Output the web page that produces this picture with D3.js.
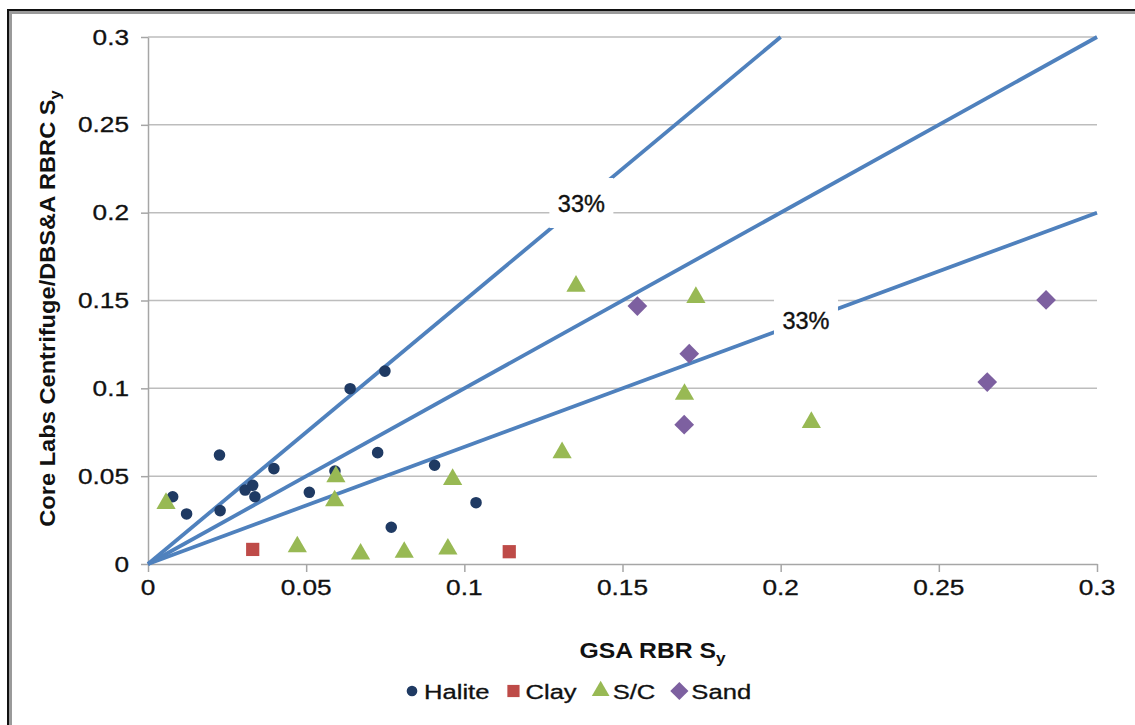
<!DOCTYPE html>
<html>
<head>
<meta charset="utf-8">
<script src="https://cdn.jsdelivr.net/npm/d3@7"></script>
<style>
  body { margin: 0; background: #fff; }
  svg { display: block; font-family: "Liberation Sans", Arial, sans-serif; }
</style>
</head>
<body>
<svg id="chart"></svg>
<script>
'use strict';

// values
const halite = [
  [0.0078, 0.0383], [0.0122, 0.0285], [0.0226, 0.0620], [0.0228, 0.0304],
  [0.0307, 0.0421], [0.0331, 0.0448], [0.0338, 0.0383], [0.0398, 0.0543],
  [0.0510, 0.0408], [0.0591, 0.0529], [0.0639, 0.0998], [0.0749, 0.1098],
  [0.0726, 0.0634], [0.0769, 0.0209], [0.0906, 0.0562], [0.1037, 0.0349],
];
const clay = [[0.0331, 0.0083], [0.1142, 0.0070]];
const sc = [
  [0.0057, 0.0345], [0.0472, 0.0098], [0.0594, 0.0497], [0.0590, 0.0360],
  [0.0672, 0.0057], [0.0810, 0.0067], [0.0948, 0.0085], [0.0963, 0.0482],
  [0.1353, 0.1582], [0.1732, 0.1518], [0.1696, 0.0966], [0.1309, 0.0634],
  [0.2097, 0.0806],
];
const sand = [[0.1547, 0.1468], [0.1711, 0.1197], [0.1695, 0.0793], [0.2839, 0.1503], [0.2653, 0.1036]];

const lineSlopes = [1.5, 1, 2 / 3];
const lineLabels = [
  { line: 0, at: 0.137, text: '33%' },
  { line: 2, at: 0.208, text: '33%' },
];

const xTicks = [0, 0.05, 0.1, 0.15, 0.2, 0.25, 0.3];
const yTicks = [0, 0.05, 0.1, 0.15, 0.2, 0.25, 0.3];
const xTickLabels = ['0', '0.05', '0.1', '0.15', '0.2', '0.25', '0.3'];
const yTickLabels = ['0', '0.05', '0.1', '0.15', '0.2', '0.25', '0.3'];

const series = [
  { name: 'Halite', data: halite, color: '#1F3A63', symbol: d3.symbolCircle, size: 105, rot: 0 },
  { name: 'Clay', data: clay, color: '#BE4B48', symbol: d3.symbolSquare, size: 175, rot: 0 },
  { name: 'S/C', data: sc, color: '#98B954', symbol: d3.symbolTriangle, size: 160, rot: 0 },
  { name: 'Sand', data: sand, color: '#7D60A0', symbol: d3.symbolSquare, size: 195, rot: 45 },
];

const width = 1135;
const height = 725;
const margin = { left: 148, right: 38, top: 37, bottom: 161 };
const textStretch = 1.22;

const svg = d3.select('#chart')
  .attr('width', width)
  .attr('height', height);

// frame of the pasted picture
svg.append('rect')
  .attr('x', 10).attr('y', 12)
  .attr('width', width).attr('height', height)
  .attr('fill', 'none')
  .attr('stroke', '#9a9a9a')
  .attr('stroke-width', 4);
svg.append('rect')
  .attr('x', 8).attr('y', 10)
  .attr('width', width).attr('height', height)
  .attr('fill', 'none')
  .attr('stroke', '#111')
  .attr('stroke-width', 2);

const x = d3.scaleLinear()
  .domain([0, 0.3])
  .range([margin.left, width - margin.right]);
const y = d3.scaleLinear()
  .domain([0, 0.3])
  .range([height - margin.bottom, margin.top]);

// horizontal gridlines
svg.append('g')
  .selectAll('line')
  .data(yTicks.slice(1))
  .enter()
  .append('line')
  .attr('x1', x(0)).attr('x2', x(0.3))
  .attr('y1', (d) => y(d)).attr('y2', (d) => y(d))
  .attr('stroke', '#BDBDBD')
  .attr('stroke-width', 1.5);

// axes
const xAxis = svg.append('g')
  .attr('transform', `translate(0,${y(0)})`)
  .call(d3.axisBottom(x).tickValues(xTicks).tickSize(8).tickSizeOuter(0).tickFormat(''));
const yAxis = svg.append('g')
  .attr('transform', `translate(${x(0)},0)`)
  .call(d3.axisLeft(y).tickValues(yTicks).tickSize(7).tickSizeOuter(0).tickFormat(''));
[xAxis, yAxis].forEach((a) => {
  a.selectAll('path, line').attr('stroke', '#A6A6A6').attr('stroke-width', 1.5);
});

// tick labels, slightly wide like the source picture
svg.append('g')
  .selectAll('text')
  .data(xTicks)
  .enter()
  .append('text')
  .text((d, i) => xTickLabels[i])
  .attr('text-anchor', 'middle')
  .attr('transform', (d) => `translate(${x(d)},${y(0) + 31}) scale(${textStretch},1)`)
  .attr('font-size', '21.5px')
  .attr('stroke', '#111').attr('stroke-width', 0.3)
  .attr('fill', '#111');
svg.append('g')
  .selectAll('text')
  .data(yTicks)
  .enter()
  .append('text')
  .text((d, i) => yTickLabels[i])
  .attr('text-anchor', 'end')
  .attr('transform', (d) => `translate(${x(0) - 19},${y(d) + 7.5}) scale(${textStretch},1)`)
  .attr('font-size', '21.5px')
  .attr('stroke', '#111').attr('stroke-width', 0.3)
  .attr('fill', '#111');

// reference lines through the origin
const clipEnd = (s) => Math.min(0.3, 0.3 / s);
svg.append('g')
  .selectAll('line')
  .data(lineSlopes)
  .enter()
  .append('line')
  .attr('x1', x(0)).attr('y1', y(0))
  .attr('x2', (s) => x(clipEnd(s)))
  .attr('y2', (s) => y(clipEnd(s) * s))
  .attr('stroke', '#4F81BD')
  .attr('stroke-width', 3.8);

// line labels with white boxes
const lab = svg.append('g')
  .selectAll('g')
  .data(lineLabels)
  .enter()
  .append('g')
  .attr('transform', (d) => `translate(${x(d.at)},${y(d.at * lineSlopes[d.line])})`);
lab.append('rect')
  .attr('x', -32).attr('y', -25)
  .attr('width', 64).attr('height', 50)
  .attr('fill', '#fff');
lab.append('text')
  .text((d) => d.text)
  .attr('text-anchor', 'middle')
  .attr('y', 8.5)
  .attr('font-size', '23.5px')
  .attr('stroke', '#111').attr('stroke-width', 0.4)
  .attr('fill', '#111');

// markers
series.forEach((s) => {
  svg.append('g')
    .selectAll('path')
    .data(s.data)
    .enter()
    .append('path')
    .attr('d', d3.symbol().type(s.symbol).size(s.size))
    .attr('transform', (d) => `translate(${x(d[0])},${y(d[1])}) rotate(${s.rot})`)
    .attr('fill', s.color);
});

// axis titles
const xTitle = svg.append('text')
  .attr('text-anchor', 'middle')
  .attr('transform', `translate(${x(0.1595)},${y(0) + 94}) scale(1.15,1)`)
  .attr('font-size', '21.5px')
  .attr('font-weight', 'bold')
  .attr('fill', '#111');
xTitle.append('tspan').text('GSA RBR S');
xTitle.append('tspan').text('y').attr('font-size', '15px').attr('dy', 5);

const yTitle = svg.append('text')
  .attr('text-anchor', 'middle')
  .attr('transform', `translate(55,${y(0.15) + 8}) rotate(-90) scale(1.1,1)`)
  .attr('font-size', '21.5px')
  .attr('font-weight', 'bold')
  .attr('fill', '#111');
yTitle.append('tspan').text('Core Labs Centrifuge/DBS&A RBRC S');
yTitle.append('tspan').text('y').attr('font-size', '15px').attr('dy', 5);

// legend
const legend = svg.append('g').attr('transform', 'translate(412,691)');
let lx = 0;
series.forEach((s) => {
  const item = legend.append('g').attr('transform', `translate(${lx},0)`);
  item.append('path')
    .attr('d', d3.symbol().type(s.symbol).size(s.size * 0.85))
    .attr('transform', `rotate(${s.rot})`)
    .attr('fill', s.color);
  const t = item.append('text')
    .text(s.name)
    .attr('transform', `translate(12,7.5) scale(1.28,1)`)
    .attr('font-size', '20px')
    .attr('stroke', '#111').attr('stroke-width', 0.3)
    .attr('fill', '#111');
  lx += 12 + t.node().getComputedTextLength() * 1.28 + 24;
});
</script>
</body>
</html>
